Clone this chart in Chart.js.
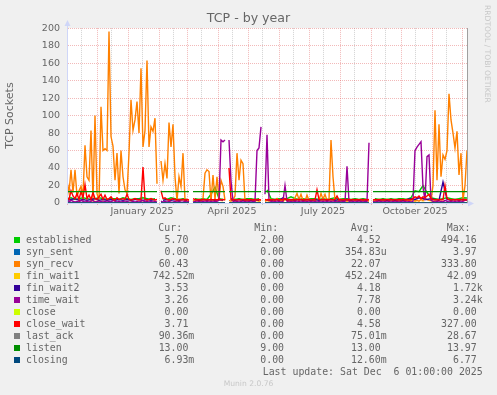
<!DOCTYPE html>
<html>
<head>
<meta charset="utf-8">
<title>TCP - by year</title>
<script src="https://cdn.jsdelivr.net/npm/chart.js@4/dist/chart.umd.min.js"></script>
<style>
  html, body { margin: 0; padding: 0; background: #f0f0f0; }
  #graph { position: relative; width: 497px; height: 395px; overflow: hidden; }
  #graph canvas { position: absolute; left: 0; top: 0; }
  .txt { position: absolute; white-space: pre; color: #666; font: 9.9px/12px "DejaVu Sans Mono", monospace; }
  .box { position: absolute; width: 6px; height: 6px; }
  #rrd { position: absolute; left: 483px; top: 5px; writing-mode: vertical-rl; font: 7.6px/8px "DejaVu Sans"; color: #c8c8c8; white-space: pre; }
  #munin { position: absolute; left: 0; width: 497px; top: 379px; text-align: center; font: 7.6px/10px "DejaVu Sans"; color: #c8c8c8; }
</style>
</head>
<body>
<div id="graph">
  <canvas id="tcpChart" width="497" height="395"></canvas>
  <div id="legend"></div>
  <div id="rrd">RRDTOOL / TOBI OETIKER</div>
  <div id="munin">Munin 2.0.76</div>
</div>
<script>
// x values are days since 1 Nov 2024 (munin year graph = last 400 days)
let days = [];
for (let d = 0; d <= 400; d += 2) days.push(d);
let days4 = [];
for (let d = 0; d <= 400; d += 4) days4.push(d);
// flat series only need the ends of each segment (null = no data)
let segDays = [0, 90, 92, 94, 122, 124, 126, 158, 160, 162, 194, 196, 198, 302, 304, 306, 400];

// every 2 days
let synRecv = [
  25, 12, 38, 12, 38, 8, 14, 19, 9, 66,
  30, 26, 83, 4, 100, 11, 2, 110, 60, 62,
  60, 196, 76, 65, 26, 57, 11, 60, 30, 15,
  11, 57, 118, 83, 95, 116, 80, 154, 64, 83,
  163, 64, 87, 82, 97, 22, null, 48, 26, 45,
  28, 92, 64, 90, 30, 2, 30, 19, 57, 3,
  2, 3, null, 3, 2, 4, 3, 2, 5, 34,
  38, 36, 2, 32, 4, 30, 4, 26, 19, 3,
  null, 3, 2, 4, 8, 57, 26, 49, 45, 2,
  3, 2, 4, 3, 2, 3, 2, 3, null, 2,
  3, 2, 4, 2, 3, 5, 2, 3, 2, 4,
  3, 2, 3, 2, 6, 11, 4, 10, 3, 2,
  9, 3, 2, 3, 2, 4, 3, 11, 4, 10,
  3, 4, 72, 30, 3, 2, 3, 2, 4, 3,
  2, 3, 2, 4, 3, 2, 3, 2, 3, 2,
  3, 2, null, 3, 2, 4, 3, 2, 3, 2,
  3, 2, 4, 3, 2, 3, 2, 3, 4, 2,
  3, 2, 3, 4, 2, 3, 2, 4, 3, 5,
  4, 3, 3, 20, 106, 26, 90, 30, 55, 50,
  60, 125, 95, 80, 63, 82, 32, 57, 3, 20,
  60
];
let timeWait = [
  2, 1, 3, 2, 1, 2, 1, 3, 2, 1,
  2, 1, 2, 3, 1, 2, 1, 2, 1, 2,
  1, 2, 1, 3, 2, 1, 2, 1, 2, 1,
  2, 1, 1, 2, 1, 2, 1, 2, 3, 1,
  2, 1, 2, 1, 2, 1, null, 2, 1, 2,
  1, 2, 1, 1, 2, 1, 2, 1, 1, 2,
  1, 2, null, 1, 2, 1, 2, 1, 2, 1,
  2, 1, 2, 1, 2, 2, 3, 72, 70, 72,
  null, 72, 25, 2, 1, 2, 1, 2, 1, 2,
  1, 2, 1, 2, 2, 60, 63, 87, null, 10,
  78, 3, 2, 1, 2, 1, 2, 1, 2, 20,
  2, 1, 2, 1, 2, 1, 2, 1, 2, 1,
  2, 1, 2, 1, 2, 1, 2, 1, 2, 1,
  2, 1, 2, 1, 2, 1, 2, 1, 2, 1,
  42, 2, 1, 2, 1, 2, 1, 2, 1, 2,
  2, 69, null, 2, 1, 2, 1, 2, 1, 2,
  1, 2, 1, 2, 1, 2, 1, 2, 1, 2,
  1, 2, 1, 2, 60, 64, 67, 70, 18, 3,
  53, 55, 3, 2, 1, 2, 1, 2, 1, 3,
  2, 1, 2, 1, 2, 1, 2, 1, 2, 3,
  3
];
let closeWait = [
  6, 4, 14, 8, 5, 11, 4, 13, 6, 21,
  5, 9, 4, 12, 5, 4, 7, 10, 4, 9,
  4, 5, 7, 4, 3.5, 6, 4, 4.5, 5, 4,
  10, 4, 3.5, 4, 5, 4, 3.5, 4, 41, 4,
  3.5, 4, 5, 4, 3.5, 4, null, 14, 5, 6,
  4, 3.5, 4, 5, 4, 3.5, 4, 3.5, 4, 3.5,
  4, 3.5, null, 5, 4, 3.5, 4, 3.5, 4, 3.5,
  4, 3.5, 4, 3.5, 4, 3.5, 4.5, 3.5, 4, 3.5,
  null, 40, 4, 3.5, 4, 3.5, 4, 3.5, 4, 3.5,
  4, 3.5, 4, 3.5, 4, 3.5, 4, 3.5, null, 4,
  3.5, 4, 3.5, 4, 3.5, 4, 3.5, 4, 3.5, 5,
  3.5, 4, 3.5, 4, 3.5, 4, 3.5, 4, 3.5, 4,
  3.5, 4, 3.5, 4, 3.5, 15, 4, 3.5, 4, 3.5,
  4, 3.5, 4, 3.5, 4, 8, 3.5, 4, 3.5, 4,
  3.5, 4, 3.5, 4, 3.5, 4, 3.5, 4, 3.5, 4,
  3.5, 4, null, 3.5, 4, 3.5, 4, 3.5, 4, 3.5,
  4, 3.5, 4, 3.5, 4, 3.5, 4, 3.5, 4, 3.5,
  4, 3.5, 4, 5, 7, 6, 8, 5, 7, 6,
  8, 10, 5, 4, 3.5, 4, 3.5, 4, 3.5, 20,
  5, 4, 3.5, 4, 3.5, 4, 3.5, 4, 3.5, 4,
  3.7
];

// every 4 days
let established = [
  5, 6, 4, 5, 6, 5, 4, 5, 6, 5,
  4, 5, 5, 4, 6, 5, 4, 5, 5, 6,
  5, 4, 5, null, 5, 4, 6, 5, 4, 5,
  4, null, 5, 4, 5, 4, 10, 18, 5, 4,
  null, 5, 4, 5, 4, 5, 5, 4, 5, null,
  15, 5, 4, 5, 4, 5, 7, 5, 4, 5,
  4, 5, 5, 4, 5, 4, 5, 6, 4, 5,
  5, 4, 5, 4, 5, 4, null, 5, 4, 5,
  4, 5, 4, 5, 5, 4, 6, 14, 13, 20,
  12, 6, 5, 4, 5, 6, 5, 4, 5, 6,
  5.7
];
let finWait2 = [
  3, 4, 5, 3, 4, 3, 4, 5, 3, 4,
  3, 4, 3, 4, 3, 4, 3, 4, 4, 3,
  4, 3, 4, null, 3, 4, 3, 4, 3, 4,
  3, null, 4, 3, 4, 3, 4, 3, 4, 3,
  null, 4, 3, 4, 3, 4, 3, 4, 3, null,
  4, 3, 4, 3, 6, 3, 4, 3, 4, 3,
  4, 3, 4, 3, 4, 3, 4, 3, 4, 3,
  4, 3, 4, 3, 4, 3, null, 4, 3, 4,
  3, 4, 3, 4, 3, 4, 5, 4, 6, 5,
  4, 5, 4, 3, 24, 4, 3, 4, 3, 4,
  3.5
];
let finWait1 = [
  1, 0, 1, 0, 0, 1, 0, 2, 0, 1,
  0, 1, 0, 0, 1, 0, 1, 0, 0, 1,
  0, 1, 0, null, 1, 0, 0, 1, 0, 0,
  1, null, 0, 1, 0, 0, 1, 0, 0, 1,
  null, 0, 1, 0, 0, 1, 0, 0, 1, null,
  0, 1, 0, 0, 1, 0, 2, 0, 0, 1,
  0, 0, 1, 0, 0, 1, 0, 0, 1, 0,
  0, 1, 0, 0, 1, 0, null, 0, 1, 0,
  0, 1, 0, 0, 1, 0, 0, 1, 0, 1,
  0, 1, 2, 0, 1, 0, 1, 0, 1, 0,
  0.7
];

// segment ends
let listen  = [13, 13, null, 13, 13, null, 13, 13, null, 13, 13, null, 13, 13, null, 13, 13];
let synSent = [0, 0, null, 0, 0, null, 0, 0, null, 0, 0, null, 0, 0, null, 0, 0];
let closeSt = [0, 0, null, 0, 0, null, 0, 0, null, 0, 0, null, 0, 0, null, 0, 0];
let lastAck = [0, 0, null, 0, 0, null, 0, 0, null, 0, 0, null, 0, 0, null, 0, 0];
let closing = [0, 0, null, 0, 0, null, 0, 0, null, 0, 0, null, 0, 0, null, 0, 0];

// legend
let names = ['established', 'syn_sent', 'syn_recv', 'fin_wait1', 'fin_wait2', 'time_wait', 'close', 'close_wait', 'last_ack', 'listen', 'closing'];
let colors = ['#00CC00', '#0066B3', '#FF8000', '#FFCC00', '#330099', '#990099', '#CCFF00', '#FF0000', '#808080', '#008F00', '#00487D'];
let curVals = ['5.70', '0.00', '60.43', '742.52m', '3.53', '3.26', '0.00', '3.71', '90.36m', '13.00', '6.93m'];
let minVals = ['2.00', '0.00', '0.00', '0.00', '0.00', '0.00', '0.00', '0.00', '0.00', '9.00', '0.00'];
let avgVals = ['4.52', '354.83u', '22.07', '452.24m', '4.18', '7.78', '0.00', '4.58', '75.01m', '13.00', '12.60m'];
let maxVals = ['494.16', '3.97', '333.80', '42.09', '1.72k', '3.24k', '0.00', '327.00', '28.67', '13.97', '6.77'];

// x axis: grid at month starts and the 15th, labels mid quarter-month
let monthStarts = [0, 30, 61, 92, 120, 151, 181, 212, 242, 273, 304, 334, 365, 395];
let midMonths = [14, 44, 75, 106, 134, 165, 195, 226, 256, 287, 318, 348, 379];
let labelDays = [75, 165, 256, 348];
let labelText = ['January 2025', 'April 2025', 'July 2025', 'October 2025'];

const MGRID = 'rgba(222, 80, 80, 0.4)';
const GRID = 'rgba(143, 143, 143, 0.4)';
const AXIS = '#CFD6F8';

function points(xs, ys) {
  return xs.map((x, i) => ({ x: x, y: ys[i] }));
}

let seriesData = [
  [days4, established], [segDays, synSent], [days, synRecv], [days4, finWait1],
  [days4, finWait2], [days, timeWait], [segDays, closeSt], [days, closeWait],
  [segDays, lastAck], [segDays, listen], [segDays, closing]
];

let datasets = seriesData.map((s, i) => ({
  label: names[i],
  data: points(s[0], s[1]),
  borderColor: colors[i],
  borderWidth: 1.4,
  pointRadius: 0,
  tension: 0,
  fill: false,
  spanGaps: false,
  // munin draws the first series first, so later ones sit on top
  order: names.length - i
}));

let rrdDecor = {
  id: 'rrdDecor',
  beforeDraw(chart) {
    let a = chart.chartArea;
    let ctx = chart.ctx;
    ctx.save();
    ctx.fillStyle = '#ffffff';
    ctx.fillRect(a.left, a.top, a.right - a.left, a.bottom - a.top);
    ctx.restore();
  },
  afterDraw(chart) {
    let a = chart.chartArea;
    let ctx = chart.ctx;
    ctx.save();
    ctx.strokeStyle = AXIS;
    ctx.fillStyle = AXIS;
    ctx.lineWidth = 1;
    ctx.beginPath();
    ctx.moveTo(a.left + 0.5, a.top);
    ctx.lineTo(a.left + 0.5, a.top - 3);
    ctx.moveTo(a.right, a.bottom + 0.5);
    ctx.lineTo(a.right + 2, a.bottom + 0.5);
    ctx.stroke();
    ctx.beginPath();
    ctx.moveTo(a.left + 0.5, a.top - 8);
    ctx.lineTo(a.left - 2.5, a.top - 2);
    ctx.lineTo(a.left + 3.5, a.top - 2);
    ctx.closePath();
    ctx.fill();
    ctx.beginPath();
    ctx.moveTo(a.right + 7, a.bottom + 0.5);
    ctx.lineTo(a.right + 1, a.bottom - 2.5);
    ctx.lineTo(a.right + 1, a.bottom + 3.5);
    ctx.closePath();
    ctx.fill();
    ctx.restore();
  }
};

Chart.defaults.font.family = "'DejaVu Sans'";
Chart.defaults.color = '#666';

const ctx = document.getElementById('tcpChart').getContext('2d');
const tcpChart = new Chart(ctx, {
  type: 'line',
  data: { datasets: datasets },
  plugins: [rrdDecor],
  options: {
    responsive: false,
    animation: false,
    devicePixelRatio: 1,
    events: [],
    layout: { padding: { left: 0, right: 0, top: 0, bottom: 172 } },
    plugins: {
      legend: { display: false },
      tooltip: { enabled: false },
      title: {
        display: true,
        text: 'TCP - by year',
        color: '#666',
        font: { size: 12.6, weight: 'normal' },
        padding: { top: 11, bottom: 2 }
      }
    },
    scales: {
      x: {
        type: 'linear',
        min: 0,
        max: 400,
        afterBuildTicks(s) {
          s.ticks = monthStarts.concat(midMonths).sort((p, q) => p - q).map(v => ({ value: v }));
        },
        afterFit(s) { s.height = 20; },
        ticks: {
          autoSkip: false,
          maxRotation: 0,
          minRotation: 0,
          padding: 1,
          font: { size: 9.5 },
          callback: v => {
            let i = labelDays.indexOf(v);
            return i >= 0 ? labelText[i] : '';
          }
        },
        grid: {
          color: c => monthStarts.includes(c.tick.value) ? MGRID : GRID,
          tickColor: c => monthStarts.includes(c.tick.value) ? MGRID : GRID,
          tickLength: 2,
          lineWidth: 1
        },
        border: { color: AXIS, width: 1, z: 1, dash: [1, 1] }
      },
      y: {
        min: 0,
        max: 200,
        afterFit(s) { s.width = 67; },
        ticks: {
          stepSize: 10,
          padding: 7,
          font: { size: 9.5 },
          callback: v => v % 20 === 0 ? String(v) : ''
        },
        grid: { color: MGRID, drawTicks: false, lineWidth: 1 },
        border: { color: AXIS, width: 1, z: 1, dash: [1, 1] },
        title: {
          display: true,
          text: 'TCP Sockets',
          color: '#666',
          font: { size: 11 },
          padding: { top: 4, bottom: 0 }
        }
      },
      y2: {
        type: 'linear',
        position: 'right',
        min: 0,
        max: 200,
        afterFit(s) { s.width = 30; },
        ticks: { display: false },
        grid: { display: false },
        border: { color: '#a0a0a0', width: 1, z: 1 }
      }
    }
  }
});

// legend table under the graph, as rrdtool prints it
let legendElem = document.getElementById('legend');
function addText(text, top, left, right) {
  let el = document.createElement('div');
  el.className = 'txt';
  el.textContent = text;
  el.style.top = top + 'px';
  if (left !== null) el.style.left = left + 'px';
  if (right !== null) { el.style.right = (497 - right) + 'px'; el.style.textAlign = 'right'; }
  legendElem.appendChild(el);
}
function withUnit(v) {
  return /[0-9]$/.test(v) ? v + ' ' : v;
}
let colRight = [194.3, 290, 386.6, 482.7];
let headLeft = [158.3, 254.3, 350.7, 446.7];
let heads = ['Cur:', 'Min:', 'Avg:', 'Max:'];
for (let j = 0; j < heads.length; j++) {
  addText(heads[j], 222, headLeft[j], null);
}
for (let i = 0; i < names.length; i++) {
  let top = 234 + 12 * i;
  let box = document.createElement('div');
  box.className = 'box';
  box.style.left = '14px';
  box.style.top = (top + 3.3) + 'px';
  box.style.background = colors[i];
  legendElem.appendChild(box);
  addText(names[i], top, 26, null);
  let vals = [curVals[i], minVals[i], avgVals[i], maxVals[i]];
  for (let j = 0; j < vals.length; j++) {
    addText(withUnit(vals[j]), top, null, colRight[j]);
  }
}
addText('Last update: Sat Dec  6 01:00:00 2025', 366, null, 482.7);
</script>
</body>
</html>
